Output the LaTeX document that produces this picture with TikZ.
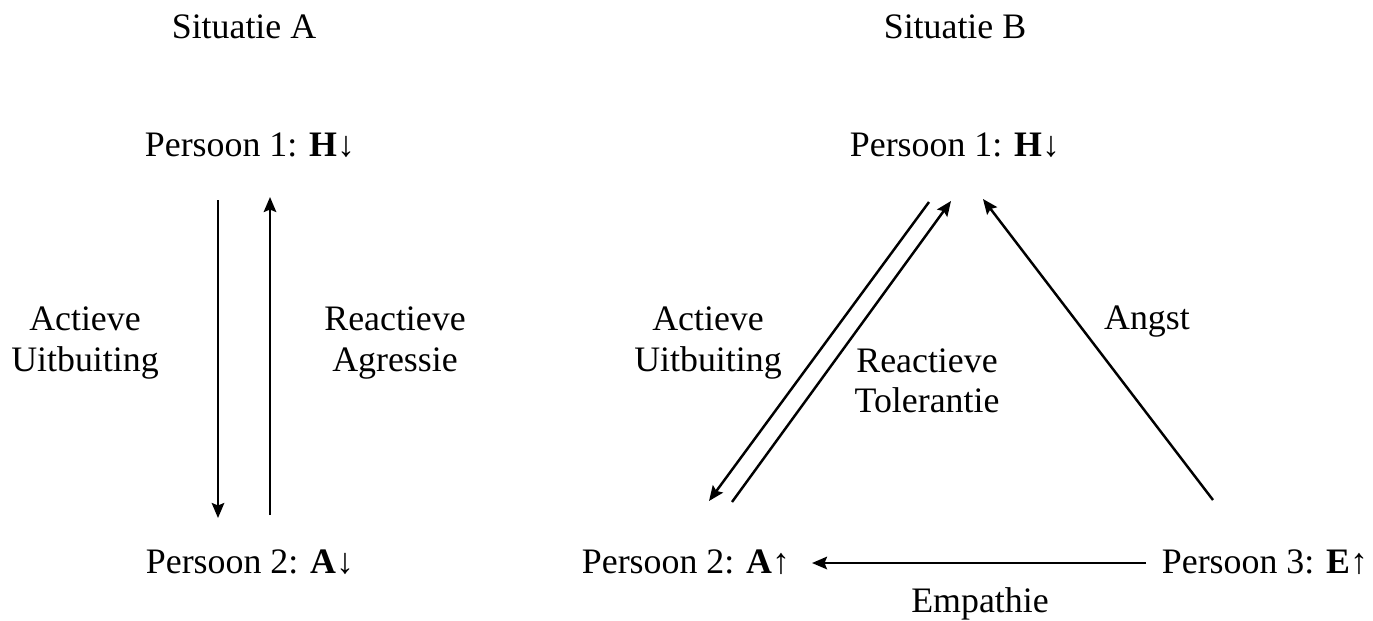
\documentclass[tikz,border=0pt]{standalone}
\usepackage{fontspec}
\setmainfont{Liberation Serif}
\usetikzlibrary{arrows.meta,positioning,calc}
\tikzset{
  lbl/.style={align=center, inner sep=1pt, font=\fontsize{20.4}{23}\selectfont},
  pijl/.style={-{Stealth[length=3mm, width=2.5mm, inset=0.5mm]}, line width=1.4pt, black}
}
\begin{document}
\begin{tikzpicture}[x=0.02cm, y=-0.02cm]
  \useasboundingbox (0,0) rectangle (1373,620);
  % Titles
  \node[lbl] (titA) at (244,27) {Situatie A};
  \node[lbl] (titB) at (955,27) {Situatie B};
  % Situatie A
  \node[lbl] (a1) at (250,145) {Persoon 1: \textbf{H}↓};
  \node[lbl] (a2) at (250,562) {Persoon 2: \textbf{A}↓};
  \coordinate (a1d) at (218,200);
  \coordinate (a2d) at (218,518);
  \coordinate (a1u) at (270,197);
  \coordinate (a2u) at (270,515);
  \draw[pijl] (a1d) -- (a2d);
  \draw[pijl] (a2u) -- (a1u);
  \node[lbl] (uitbA) at (85,343) {Actieve\\Uitbuiting};
  \node[lbl] (agr) at (395,343) {Reactieve\\Agressie};
  % Situatie B
  \node[lbl] (b1) at (955,145) {Persoon 1: \textbf{H}↓};
  \node[lbl] (b2) at (686,562) {Persoon 2: \textbf{A}↑};
  \node[lbl] (b3) at (1265,562) {Persoon 3: \textbf{E}↑};
  \coordinate (b1l) at (929,202);
  \coordinate (b2l) at (709,501);
  \coordinate (b2r) at (732,502);
  \coordinate (b1r) at (951,201);
  \coordinate (b3t) at (1213,500);
  \coordinate (b1a) at (983,199);
  \coordinate (b3w) at (1146,563);
  \coordinate (b2e) at (812,563);
  \draw[pijl] (b1l) -- (b2l);
  \draw[pijl] (b2r) -- (b1r);
  \draw[pijl] (b3t) -- (b1a);
  \draw[pijl] (b3w) -- (b2e);
  \node[lbl] (uitbB) at (708,343) {Actieve\\Uitbuiting};
  \node[lbl] (tol) at (927,381) {Reactieve\\Tolerantie};
  \node[lbl] (angst) at (1147,322) {Angst};
  \node[lbl] (emp) at (980,604) {Empathie};
\end{tikzpicture}
\end{document}
